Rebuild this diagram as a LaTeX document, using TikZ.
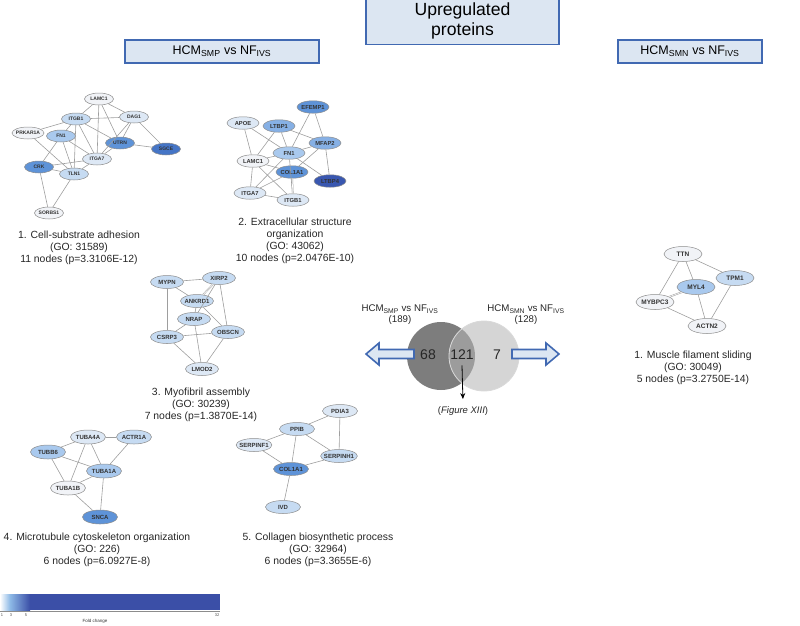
\documentclass[tikz,border=0pt]{standalone}
\usepackage{fontspec}
\setmainfont{Liberation Sans}
\usetikzlibrary{shapes.geometric,arrows.meta}

\definecolor{fc0}{HTML}{F1F3F7}
\definecolor{fc1}{HTML}{DDE8F5}
\definecolor{fc2}{HTML}{C6DBF2}
\definecolor{fc3}{HTML}{A9C9EE}
\definecolor{fc4}{HTML}{86B0E5}
\definecolor{fc5}{HTML}{5E93D8}
\definecolor{fc6}{HTML}{4575C6}
\definecolor{fc7}{HTML}{3957B0}
\definecolor{hdblue}{HTML}{4169B2}
\definecolor{hdfill}{HTML}{DCE6F2}
\definecolor{vdark}{HTML}{7D7D7D}
\definecolor{vmid}{HTML}{9C9C9C}
\definecolor{vlight}{HTML}{D5D5D5}
\definecolor{cbmid}{HTML}{8DB9E6}
\definecolor{cbdark}{HTML}{3B4FA7}

\tikzset{
  prot/.style={ellipse, draw=black!45, line width=0.5pt, fill=fc0, inner xsep=-2pt, inner ysep=0pt,
    minimum width=29pt, minimum height=12pt, font=\fontsize{5}{5}\selectfont\bfseries, text=black!80},
  link/.style={draw=black!38, line width=0.6pt},
  link2/.style={draw=black!38, line width=0.5pt, double=white, double distance=0.6pt},
  caption/.style={align=center, font=\fontsize{10.4}{12}\selectfont, text=black!85},
  headbox/.style={draw=hdblue, fill=hdfill, line width=1.8pt, inner sep=0pt},
  bigarrow/.style={draw=hdblue, fill=hdfill, line width=1.6pt, line join=miter},
}

\begin{document}
\begin{tikzpicture}[x=1pt, y=-1pt]
%%%%% START %%%%%
\useasboundingbox (0,0) rectangle (800,625);

% header boxes
\node[headbox, minimum width=193pt, minimum height=47pt, align=center,
  font=\fontsize{17.6}{20}\selectfont] (hup) at (462.5,21) {Upregulated\\proteins};
\node[headbox, minimum width=194pt, minimum height=23pt,
  font=\fontsize{12.5}{14}\selectfont] (hsmp) at (222,51.5) {HCM\textsubscript{SMP} vs NF\textsubscript{IVS}};
\node[headbox, minimum width=144pt, minimum height=23pt,
  font=\fontsize{12.5}{14}\selectfont] (hsmn) at (690,51.5) {HCM\textsubscript{SMN} vs NF\textsubscript{IVS}};

% 1. cell-substrate adhesion
\node[prot] (aLAMC1) at (99,99) {LAMC1};
\node[prot, fill=fc2] (aITGB1) at (76,119) {ITGB1};
\node[prot, fill=fc1] (aDAG1) at (134,117) {DAG1};
\node[prot, minimum width=32pt] (aPRKAR1A) at (28,133) {PRKAR1A};
\node[prot, fill=fc3] (aFN1) at (61,136) {FN1};
\node[prot, fill=fc5] (aUTRN) at (120,143) {UTRN};
\node[prot, fill=fc6] (aSGCE) at (166,149) {SGCE};
\node[prot, fill=fc1] (aITGA7) at (97,159) {ITGA7};
\node[prot, fill=fc5] (aCRK) at (39,167) {CRK};
\node[prot, fill=fc2] (aTLN1) at (74,174) {TLN1};
\node[prot] (aSORBS1) at (49,213) {SORBS1};
\foreach \a/\b in {LAMC1/ITGB1, LAMC1/DAG1, LAMC1/UTRN, LAMC1/ITGA7, ITGB1/DAG1, ITGB1/FN1,
    ITGB1/PRKAR1A, ITGB1/ITGA7, ITGB1/TLN1, ITGB1/UTRN, PRKAR1A/TLN1, FN1/CRK, FN1/TLN1,
    FN1/ITGA7, DAG1/UTRN, DAG1/SGCE, DAG1/ITGA7, UTRN/SGCE, UTRN/ITGA7, CRK/ITGA7,
    CRK/TLN1, CRK/SORBS1, TLN1/SORBS1, TLN1/ITGA7}
  \draw[link] (a\a) -- (a\b);
\node[caption] (capA) at (79,248) {1. Cell-substrate adhesion\\(GO: 31589)\\11 nodes (p=3.3106E-12)};

% 2. extracellular structure organization
\begin{scope}[prot/.append style={minimum width=32pt, minimum height=12.5pt, font=\fontsize{5.8}{6}\selectfont\bfseries}]
\node[prot, fill=fc5] (bEFEMP1) at (313,107) {EFEMP1};
\node[prot, fill=fc1] (bAPOE) at (243,123) {APOE};
\node[prot, fill=fc4] (bLTBP1) at (279,126) {LTBP1};
\node[prot, fill=fc4] (bMFAP2) at (325,143) {MFAP2};
\node[prot, fill=fc3] (bFN1) at (289,153) {FN1};
\node[prot] (bLAMC1) at (253,161) {LAMC1};
\node[prot, fill=fc5] (bCOL1A1) at (292,172) {COL1A1};
\node[prot, fill=fc7] (bLTBP4) at (330,181) {LTBP4};
\node[prot, fill=fc1] (bITGA7) at (250,193) {ITGA7};
\node[prot, fill=fc1] (bITGB1) at (293,200) {ITGB1};
\end{scope}
\foreach \a/\b in {EFEMP1/FN1, EFEMP1/MFAP2, APOE/LAMC1, APOE/FN1, LTBP1/FN1, LTBP1/LAMC1,
    LTBP1/MFAP2, MFAP2/FN1, MFAP2/COL1A1, MFAP2/LTBP4, FN1/LAMC1, FN1/LTBP4, FN1/ITGA7,
    FN1/ITGB1, LAMC1/COL1A1, LAMC1/ITGB1, LAMC1/ITGA7, COL1A1/ITGA7, ITGA7/ITGB1}
  \draw[link] (b\a) -- (b\b);
\draw[link2] (bCOL1A1) -- (bITGB1);
\node[caption] (capB) at (295,241) {2. Extracellular structure\\organization\\(GO: 43062)\\10 nodes (p=2.0476E-10)};

% 3. myofibril assembly
\begin{scope}[prot/.append style={minimum width=33pt, minimum height=13pt, fill=fc2, font=\fontsize{6}{6}\selectfont\bfseries}]
\node[prot] (cMYPN) at (167,282) {MYPN};
\node[prot] (cXIRP2) at (219,278) {XIRP2};
\node[prot] (cANKRD1) at (197,301) {ANKRD1};
\node[prot] (cNRAP) at (194,319) {NRAP};
\node[prot] (cOBSCN) at (228,332) {OBSCN};
\node[prot] (cCSRP3) at (167,337) {CSRP3};
\node[prot, fill=fc1] (cLMOD2) at (202,369) {LMOD2};
\end{scope}
\foreach \a/\b in {MYPN/XIRP2, MYPN/ANKRD1, MYPN/CSRP3, XIRP2/OBSCN, XIRP2/NRAP, ANKRD1/NRAP,
    ANKRD1/OBSCN, NRAP/CSRP3, NRAP/LMOD2, CSRP3/OBSCN, CSRP3/LMOD2, OBSCN/LMOD2}
  \draw[link] (c\a) -- (c\b);
\draw[link2] (cXIRP2) -- (cANKRD1);
\node[caption] (capC) at (201,404.5) {3. Myofibril assembly\\(GO: 30239)\\7 nodes (p=1.3870E-14)};

% 4. microtubule cytoskeleton organization
\begin{scope}[prot/.append style={minimum width=35pt, minimum height=14pt, font=\fontsize{6}{6}\selectfont\bfseries}]
\node[prot, fill=fc1] (dTUBA4A) at (88,437) {TUBA4A};
\node[prot, fill=fc2] (dACTR1A) at (134,437) {ACTR1A};
\node[prot, fill=fc3] (dTUBB6) at (48,452) {TUBB6};
\node[prot, fill=fc3] (dTUBA1A) at (104,471) {TUBA1A};
\node[prot] (dTUBA1B) at (68,488) {TUBA1B};
\node[prot, fill=fc5] (dSNCA) at (100,517) {SNCA};
\end{scope}
\foreach \a/\b in {TUBA4A/ACTR1A, TUBA4A/TUBB6, TUBA4A/TUBA1A, TUBA4A/TUBA1B, TUBB6/TUBA1A,
    TUBB6/TUBA1B, TUBA1A/TUBA1B, TUBA1A/ACTR1A, TUBA1A/SNCA, TUBA1B/SNCA}
  \draw[link] (d\a) -- (d\b);
\node[caption] (capD) at (97,549.5) {4. Microtubule cytoskeleton organization\\(GO: 226)\\6 nodes (p=6.0927E-8)};

% 5. collagen biosynthetic process
\begin{scope}[prot/.append style={minimum width=35pt, minimum height=13pt, font=\fontsize{6}{6}\selectfont\bfseries}]
\node[prot, fill=fc1] (ePDIA3) at (340,411) {PDIA3};
\node[prot, fill=fc2] (ePPIB) at (297,429) {PPIB};
\node[prot, fill=fc1] (eSERPINF1) at (254,445) {SERPINF1};
\node[prot, fill=fc2] (eSERPINH1) at (339,456) {SERPINH1};
\node[prot, fill=fc5] (eCOL1A1) at (291,469) {COL1A1};
\node[prot, fill=fc2] (eIVD) at (283,507) {IVD};
\end{scope}
\foreach \a/\b in {PDIA3/PPIB, PDIA3/SERPINH1, PPIB/SERPINF1, PPIB/SERPINH1, PPIB/COL1A1,
    SERPINF1/COL1A1, SERPINH1/COL1A1, COL1A1/IVD}
  \draw[link] (e\a) -- (e\b);
\node[caption] (capE) at (318,549.5) {5. Collagen biosynthetic process\\(GO: 32964)\\6 nodes (p=3.3655E-6)};

% 1. muscle filament sliding (SMN)
\begin{scope}[prot/.append style={minimum width=38pt, minimum height=15pt, font=\fontsize{6.5}{7}\selectfont\bfseries}]
\node[prot] (fTTN) at (683,254) {TTN};
\node[prot, fill=fc2] (fTPM1) at (735,278) {TPM1};
\node[prot, fill=fc3] (fMYL4) at (696,287) {MYL4};
\node[prot] (fMYBPC3) at (655,302) {MYBPC3};
\node[prot] (fACTN2) at (707,326) {ACTN2};
\end{scope}
\foreach \a/\b in {TTN/TPM1, TTN/MYL4, TTN/MYBPC3, MYL4/ACTN2, TPM1/ACTN2, MYBPC3/ACTN2}
  \draw[link] (f\a) -- (f\b);
\draw[link2] (fMYL4) -- (fMYBPC3);
\node[caption] (capF) at (693,368) {1. Muscle filament sliding\\(GO: 30049)\\5 nodes (p=3.2750E-14)};

% venn
\fill[vdark] (441,356) circle (34);
\fill[vlight] (484,356) circle (35);
\begin{scope}
  \clip (441,356) circle (34);
  \fill[vmid] (484,356) circle (35);
\end{scope}
\draw[white!85!black, line width=0.8pt] (484,356) circle (35);
\node[font=\fontsize{14}{14}\selectfont, text=black!85] (vn68) at (428,355) {68};
\node[font=\fontsize{14}{14}\selectfont, text=black!85] (vn121) at (462,355) {121};
\node[font=\fontsize{14}{14}\selectfont, text=black!85] (vn7) at (497,355) {7};
\node[align=center, font=\fontsize{9.7}{11}\selectfont, text=black!85] (vsmp) at (400,315) {HCM\textsubscript{SMP} vs NF\textsubscript{IVS}\\(189)};
\node[align=center, font=\fontsize{9.7}{11}\selectfont, text=black!85] (vsmn) at (526,315) {HCM\textsubscript{SMN} vs NF\textsubscript{IVS}\\(128)};
\node[font=\fontsize{9.5}{10}\selectfont, text=black!85] (figref) at (463,411) {(\textit{Figure XIII})};
\draw[-{Stealth[length=6pt,width=5pt]}, line width=0.8pt, shorten >=4pt] ([yshift=-2pt]vn121.south) -- (figref.north);

\draw[bigarrow] (414,349.5) -- (379,349.5) -- (379,343) -- (366,354) -- (379,365) -- (379,358.5) -- (414,358.5) -- cycle;
\draw[bigarrow] (512,349.5) -- (546,349.5) -- (546,343) -- (559,354) -- (546,365) -- (546,358.5) -- (512,358.5) -- cycle;

% colour scale
\shade[left color=white, right color=cbmid] (0,594) rectangle (10,610);
\shade[left color=cbmid, right color=cbdark] (10,594) rectangle (30,610);
\fill[cbdark] (29.8,594) rectangle (220,610);
\draw[black!45, line width=0.4pt] (0,611.5) -- (220,611.5);
\foreach \t/\x in {1/2, 3/11, 5/26, 32/217}
  \node[font=\fontsize{4}{4}\selectfont, text=black!70, inner sep=0pt] (cb\t) at (\x,615) {\t};
\node[font=\fontsize{4.5}{5}\selectfont, text=black!80, inner sep=0pt] (cblab) at (95,621) {Fold change};

%%%%% END %%%%%
\end{tikzpicture}
\end{document}
